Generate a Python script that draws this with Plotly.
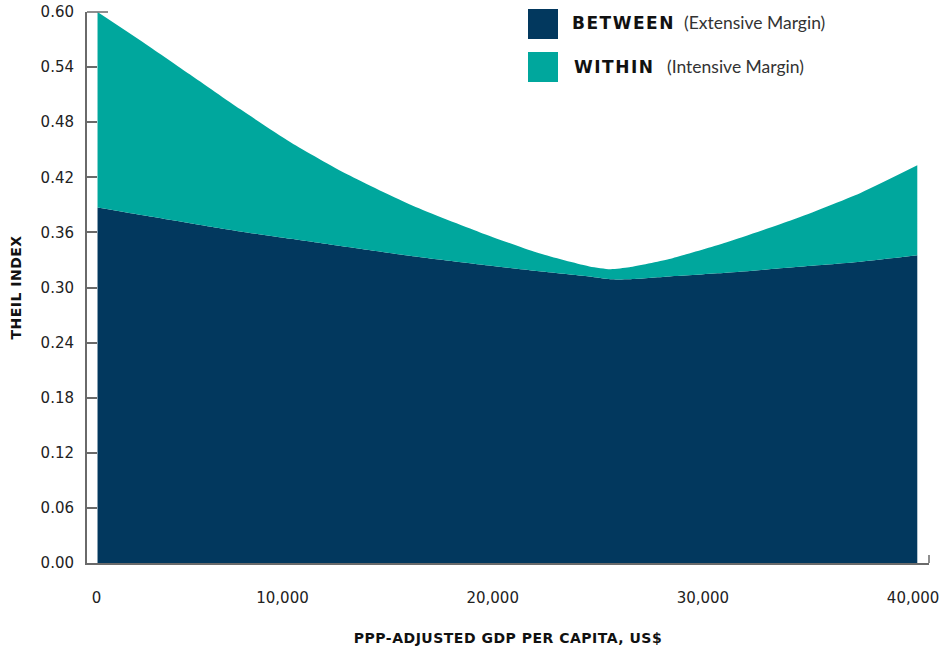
import plotly.graph_objects as go

# ---- data ----
gdp_per_capita = [1200, 3500, 5600, 8000, 10400, 13100, 16200, 19400, 22100,
                  24600, 25600, 26500, 28400, 31100, 34300, 37500, 40200]
between = [0.387, 0.378, 0.370, 0.361, 0.353, 0.344, 0.334, 0.325, 0.318,
           0.312, 0.309, 0.309, 0.312, 0.316, 0.322, 0.328, 0.335]
within = [0.213, 0.187, 0.162, 0.133, 0.105, 0.079, 0.055, 0.035, 0.020,
          0.011, 0.011, 0.013, 0.019, 0.033, 0.052, 0.075, 0.098]

x_tickvals = [1150, 10000, 20000, 30000, 40000]
x_ticktext = ["0", "10,000", "20,000", "30,000", "40,000"]
y_tickvals = [0.00, 0.06, 0.12, 0.18, 0.24, 0.30, 0.36, 0.42, 0.48, 0.54, 0.60]

NAVY = "#02385E"
TEAL = "#00A79D"
AXIS = "#6a6a6a"

W, H = 946, 648
L, R, T, B = 87, 17, 12, 85
PW, PH = W - L - R, H - T - B


def px_x(px):
    return (px - L) / PW


def px_y(py):
    return (H - B - py) / PH


def spaced(text, px):
    return f'<span style="letter-spacing:{px}px">{text}</span>'


fig = go.Figure()
fig.add_trace(go.Scatter(
    x=gdp_per_capita, y=between, name="BETWEEN (Extensive Margin)",
    stackgroup="theil", mode="lines", line=dict(width=0, shape="spline", smoothing=0.6),
    fillcolor=NAVY, showlegend=False, hoverinfo="x+y"))
fig.add_trace(go.Scatter(
    x=gdp_per_capita, y=within, name="WITHIN (Intensive Margin)",
    stackgroup="theil", mode="lines", line=dict(width=0, shape="spline", smoothing=0.6),
    fillcolor=TEAL, showlegend=False, hoverinfo="x+y"))

shapes = [
    # legend swatches
    dict(type="rect", xref="paper", yref="paper", x0=px_x(528), x1=px_x(558),
         y0=px_y(39), y1=px_y(9), fillcolor=NAVY, line=dict(width=0)),
    dict(type="rect", xref="paper", yref="paper", x0=px_x(528), x1=px_x(558),
         y0=px_y(82), y1=px_y(52), fillcolor=TEAL, line=dict(width=0)),
    # top cap of y axis and right cap of x axis
    dict(type="line", xref="paper", yref="paper", x0=0, x1=px_x(108),
         y0=1, y1=1, line=dict(color=AXIS, width=1.5)),
    dict(type="line", xref="paper", yref="paper", x0=1, x1=1,
         y0=0, y1=px_y(555), line=dict(color=AXIS, width=1.5)),
]

annotations = [
    dict(text=spaced("BETWEEN", 1.5), x=px_x(570), y=px_y(23), xref="paper", yref="paper",
         xanchor="left", yanchor="middle", showarrow=False,
         font=dict(family="DejaVu Sans", size=17, color="#111111", weight="bold")),
    dict(text="(Extensive Margin)", x=px_x(682), y=px_y(23), xref="paper", yref="paper",
         xanchor="left", yanchor="middle", showarrow=False,
         font=dict(family="Lato", size=17.5, color="#333333")),
    dict(text=spaced("WITHIN", 1.5), x=px_x(572), y=px_y(67), xref="paper", yref="paper",
         xanchor="left", yanchor="middle", showarrow=False,
         font=dict(family="DejaVu Sans", size=17, color="#111111", weight="bold")),
    dict(text="(Intensive Margin)", x=px_x(665), y=px_y(67), xref="paper", yref="paper",
         xanchor="left", yanchor="middle", showarrow=False,
         font=dict(family="Lato", size=17.5, color="#333333")),
]

fig.update_layout(
    width=W, height=H, autosize=False,
    margin=dict(l=L, r=R, t=T, b=B, pad=0, autoexpand=False),
    paper_bgcolor="white", plot_bgcolor="white",
    shapes=shapes, annotations=annotations,
    font=dict(family="DejaVu Sans", color="#222222"),
    xaxis=dict(
        range=[699, 40757], tickvals=x_tickvals, ticktext=x_ticktext,
        showgrid=False, zeroline=False, showline=True, linecolor=AXIS, linewidth=2,
        ticks="", ticklabelstandoff=20, layer="below traces", automargin=False,
        tickfont=dict(family="DejaVu Sans", size=15, color="#222222"),
        title=dict(text=spaced("PPP-ADJUSTED GDP PER CAPITA, US$", 0.5), standoff=27,
                   font=dict(family="DejaVu Sans", size=14, color="#111111", weight="bold")),
    ),
    yaxis=dict(
        range=[0, 0.60], tickvals=y_tickvals, tickformat=".2f",
        showgrid=False, zeroline=False, showline=True, linecolor=AXIS, linewidth=2,
        ticks="inside", ticklen=10, tickwidth=1.5, tickcolor=AXIS,
        ticklabelstandoff=8, automargin=False,
        tickfont=dict(family="DejaVu Sans", size=15, color="#222222"),
        title=dict(text=spaced("THEIL INDEX", 0.5), standoff=16,
                   font=dict(family="DejaVu Sans", size=14, color="#111111", weight="bold")),
    ),
)

fig.write_html(
    "out.html",
    config={"displayModeBar": False},
    post_script="document.body.style.margin='0';document.body.style.overflow='hidden';",
)
